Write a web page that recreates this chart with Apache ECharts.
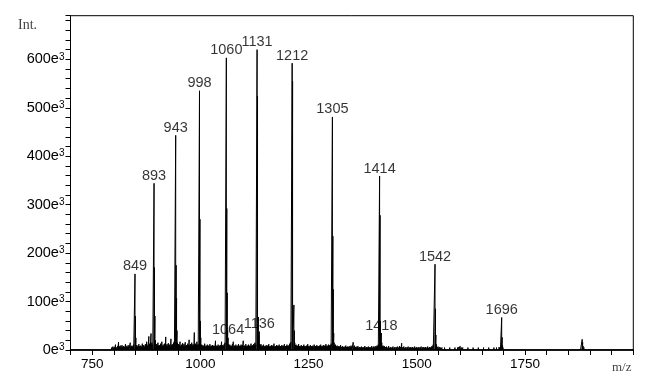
<!DOCTYPE html>
<html>
<head>
<meta charset="utf-8">
<script src="https://cdn.jsdelivr.net/npm/echarts@6/dist/echarts.min.js"></script>
<style>html,body{margin:0;padding:0;background:#fff}#c{width:654px;height:384px}</style>
</head>
<body>
<div id="c"></div>
<script>
// labelled peaks (m/z, intensity in e3)
const peakMz  = [849, 893, 943, 998, 1060, 1064, 1131, 1136, 1212, 1305, 1414, 1418, 1542, 1696];
const peakInt = [157, 344, 443, 535, 603,  25,   620,  38,   592,  481,  359,  35,   177,  67];

// isotope / satellite sticks [m/z, intensity e3]
const isotopes = [
  [850,70],[851,25],[852,10],
  [894,170],[895,70],[896,20],
  [944,175],[945,107],[946,40],[947,15],
  [999,270],[1000,60],[1001,25],
  [1061,292],[1062,118],[1063,40],[1065,12],
  [1132,524],[1134,68],[1135,30],[1137,12],
  [1213,555],[1216,93],[1217,40],[1218,15],
  [1306,235],[1307,125],[1308,35],[1309,15],
  [1415,278],[1416,60],[1419,15],[1420,8],
  [1543,85],[1544,31],[1545,12],[1546,6],
  [1697,26],[1698,10],[1699,5],
  [1882,22],[1883,16],[1884,8]
];

// baseline noise sticks [m/z, intensity e3]
const noiseLow = [
  [735,1],[745,1.5],[755,1],[762,2],[767,2.5],[772,2],[777,3],[782,2.5],[786,3.5],[790,3],
  [795,5],[798,7],[801,6],[804,11],[806,5],[809,8],[811,16],[813,7],[815,9],[817,6],[819,10],[821,7],[823,8],[825,6],[827,12],[829,7],[831,9],[833,6],[835,10],[838,15],[840,8],[842,9],[844,7],[846,11],
  [854,9],[856,7],[858,12],[860,8],[862,9],[864,7],[866,13],[868,8],[869,10],[871,7],[873,12],[875,9],[876,17],[878,8],[879,11],[881,28],[883,12],[884,14],[886,34],[888,15],[890,11],
  [898,10],[899,12],[901,8],[902,15],[904,9],[905,10],[907,8],[908,13],[910,9],[911,17],[913,8],[914,11],[916,9],[917,13],[919,10],[920,27],[922,9],[923,12],[925,8],[926,14],[928,9],[929,11],[931,8],[932,23],[934,10],[935,12],[937,9],[938,15],[940,18],
  [949,12],[950,11],[952,9],[953,17],[955,8],[956,11],[958,9],[959,14],[961,8],[962,12],[964,9],[965,16],[967,8],[968,10],[970,9],[971,13],[973,10],[974,21],[976,9],[977,12],[979,8],[980,15],[982,9],[983,12],[985,10],[986,36],[988,11],[989,13],[991,9],[992,17],[994,10],[995,12]
];
const noiseMid = [
  [1003,11],[1004,10],[1006,8],[1007,9],[1009,8],[1010,13],[1012,7],[1013,9],[1015,8],[1016,11],[1018,7],[1019,9],[1021,8],[1022,12],[1024,7],[1025,9],[1027,8],[1028,10],[1030,7],[1031,9],[1033,8],[1035,19],[1037,8],[1038,9],[1040,8],[1041,11],[1043,7],[1044,9],[1046,8],[1047,10],[1049,17],[1051,9],[1052,10],[1054,8],[1055,12],[1057,15],
  [1067,10],[1068,11],[1070,8],[1071,9],[1073,8],[1074,12],[1076,17],[1078,8],[1079,9],[1081,8],[1082,11],[1084,7],[1085,9],[1087,8],[1088,12],[1090,7],[1091,9],[1093,8],[1094,11],[1096,8],[1097,10],[1099,19],[1101,8],[1102,9],[1104,8],[1105,12],[1107,7],[1108,9],[1110,8],[1111,11],[1113,7],[1114,9],[1116,8],[1117,13],[1119,8],[1120,10],[1122,8],[1123,12],[1125,9],[1126,15],[1128,11],
  [1139,10],[1140,12],[1142,8],[1143,9],[1145,7],[1146,11],[1148,7],[1149,8],[1151,7],[1152,10],[1154,7],[1155,9],[1157,8],[1158,12],[1160,7],[1161,8],[1163,7],[1164,10],[1166,7],[1167,9],[1169,8],[1170,13],[1172,7],[1173,8],[1175,7],[1176,10],[1178,7],[1179,9],[1181,8],[1182,11],[1184,7],[1185,8],[1187,7],[1188,10],[1190,7],[1191,9],[1193,8],[1194,12],[1196,7],[1197,8],[1199,8],[1200,11],[1202,8],[1203,9],[1205,9],[1206,13],[1208,10],[1209,16],
  [1220,10],[1221,11],[1223,8],[1224,9],[1226,7],[1227,12],[1229,7],[1230,8],[1232,7],[1233,10],[1235,7],[1236,8],[1238,7],[1239,11],[1241,7],[1242,8],[1244,7],[1245,9],[1247,8],[1248,12],[1250,7],[1251,8],[1253,7],[1254,10],[1256,7],[1257,8],[1259,7],[1260,9],[1262,7],[1263,11],[1265,7],[1266,8],[1268,7],[1269,10],[1271,7],[1272,8],[1274,7],[1275,9],[1277,8],[1278,11],[1280,7],[1281,8],[1283,7],[1284,10],[1286,7],[1287,9],[1289,8],[1290,12],[1292,8],[1293,9],[1295,8],[1296,11],[1298,8],[1299,10],[1301,9],[1302,13]
];
const noiseHigh = [
  [1311,10],[1312,11],[1314,8],[1316,9],[1318,7],[1320,8],[1322,7],[1324,10],[1326,6],[1328,8],[1330,6],[1332,7],[1334,6],[1336,9],[1338,6],[1340,7],[1342,6],[1344,8],[1346,6],[1348,9],[1350,7],[1353,16],[1355,7],[1356,9],[1358,6],[1360,7],[1362,5],[1364,8],[1366,5],[1368,6],[1370,5],[1372,7],[1374,5],[1376,6],[1378,5],[1380,8],[1382,5],[1384,6],[1386,5],[1388,7],[1390,5],[1392,6],[1394,5],[1396,8],[1398,5],[1400,7],[1402,5],[1404,8],[1406,6],[1408,9],[1410,8],[1411,11],
  [1422,9],[1424,7],[1425,8],[1428,6],[1430,7],[1433,5],[1435,8],[1438,5],[1440,6],[1443,5],[1445,7],[1448,5],[1450,6],[1453,5],[1455,7],[1458,5],[1460,8],[1463,6],[1465,14],[1468,6],[1470,7],[1473,5],[1475,6],[1478,5],[1480,7],[1483,5],[1485,6],[1488,5],[1490,6],[1493,5],[1495,7],[1498,5],[1500,6],[1503,5],[1505,6],[1508,5],[1510,7],[1513,5],[1515,6],[1518,5],[1520,6],[1523,5],[1525,7],[1528,5],[1530,6],[1533,6],[1535,8],[1538,11],
  [1549,7],[1552,6],[1555,5],[1558,5],[1561,4],[1564,5],[1567,4],[1570,4],[1573,4],[1576,5],[1579,4],[1582,4],[1585,4],[1588,5],[1591,4],[1594,5],[1597,6],[1600,8],[1603,5],[1606,5],[1609,4],[1612,4],[1615,4],[1618,5],[1621,4],[1624,4],[1627,4],[1630,5],[1633,4],[1636,4],[1639,4],[1642,5],[1645,4],[1648,4],[1651,4],[1654,5],[1657,4],[1660,4],[1663,4],[1666,5],[1669,4],[1672,4],[1675,4],[1678,5],[1681,4],[1684,5],[1687,4],[1690,6],[1693,5],
  [1702,4],[1706,3],[1710,3],[1714,3],[1718,3],[1722,3],[1726,2.5],[1730,3],[1735,2.5],[1740,3],[1745,2.5],[1750,3],[1755,2.5],[1760,3],[1765,2.5],[1770,3],[1775,2.5],[1780,3],[1785,2.5],[1790,3],[1795,2.5],[1800,3],[1805,2.5],[1810,3],[1815,2.5],[1820,3],[1825,2.5],[1830,3],[1835,2.5],[1840,3],[1845,2.5],[1850,3],[1855,2.5],[1860,3],[1865,2.5],[1870,3],[1874,3],[1878,4],[1886,5],[1888,4],[1890,3],[1893,3],[1896,3],[1900,2],[1904,1.5]
];

const xMin = 700, xMax = 2000, xStep = 50, xLabelStep = 250;
const yMin = 0, yMax = 690, yStep = 20, yLabelStep = 100;

const peaks = peakMz.map((m, i) => [m, peakInt[i]]);
const sticks = peaks.concat(isotopes, noiseLow, noiseMid, noiseHigh).sort((a, b) => a[0] - b[0]);
const lineData = [[xMin, 0]];
sticks.forEach(s => { lineData.push([s[0], 0], [s[0], s[1]], [s[0], 0]); });
lineData.push([xMax, 0]);

const sans = 'Liberation Sans, Arial, Helvetica, sans-serif';
const serif = 'Liberation Serif, Times New Roman, serif';

const chart = echarts.init(document.getElementById('c'), null, {renderer: 'canvas'});
chart.setOption({
  animation: false,
  backgroundColor: '#fff',
  grid: {left: 70.5, right: 20.7, top: 15.7, bottom: 34, show: true, borderColor: '#000', borderWidth: 1, backgroundColor: 'transparent'},
  xAxis: {
    type: 'value', min: xMin, max: xMax, interval: xStep,
    axisLine: {show: true, lineStyle: {color: '#000', width: 1.5}},
    axisTick: {show: true, inside: false, length: 5, lineStyle: {color: '#000'}},
    splitLine: {show: false},
    axisLabel: {
      margin: 7, color: '#000', fontFamily: sans, fontSize: 13.5,
      formatter: v => (v % xLabelStep === 0 && v > xMin && v < xMax) ? String(v) : ''
    }
  },
  yAxis: {
    type: 'value', min: yMin, max: yMax, interval: yStep,
    axisLine: {show: true, lineStyle: {color: '#000', width: 1}},
    axisTick: {show: true, inside: false, length: 5, lineStyle: {color: '#000'}},
    splitLine: {show: false},
    axisLabel: {
      margin: 6, color: '#000', fontFamily: sans, fontSize: 14,
      formatter: v => (v % yLabelStep === 0) ? '{a|' + v + 'e}{s|3}' : '',
      rich: {
        a: {fontFamily: sans, fontSize: 14.5, color: '#000'},
        s: {fontFamily: sans, fontSize: 10, color: '#000', verticalAlign: 'top'}
      }
    }
  },
  graphic: [
    {type: 'text', left: 18, top: 18, style: {text: 'Int.', font: '14px ' + serif, fill: '#444'}},
    {type: 'text', left: 612, top: 361, style: {text: 'm/z', font: '13px ' + serif, fill: '#444'}}
  ],
  series: [
    {
      type: 'line', data: lineData, symbol: 'none', silent: true, z: 2,
      lineStyle: {color: '#000', width: 1}
    },
    {
      type: 'scatter', data: peaks, symbolSize: 0, silent: true, z: 3,
      label: {
        show: true, position: 'top', distance: 0, color: '#000',
        fontFamily: sans, fontSize: 14.5,
        formatter: p => String(p.value[0])
      }
    }
  ]
});
</script>
</body>
</html>
